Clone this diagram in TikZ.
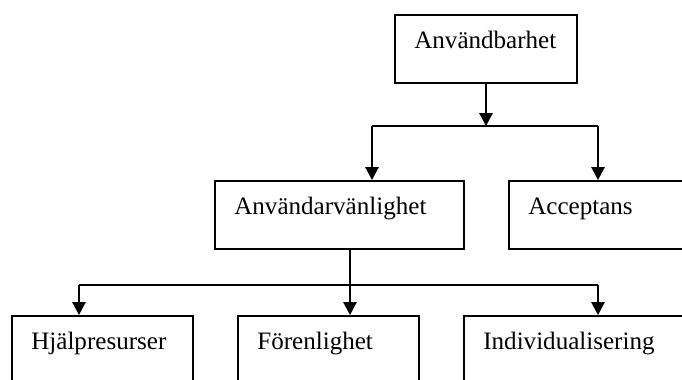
\documentclass[tikz,border=0pt]{standalone}
\usepackage{fontspec}
\setmainfont{Liberation Serif}
\usetikzlibrary{arrows.meta}

\tikzset{box/.style={draw, line width=1.5pt, anchor=north west, inner xsep=14.5pt, inner ysep=0pt,
    align=left, text height=24.75pt, text depth=26.25pt, font=\fontsize{18.8}{22}\selectfont},
    tallbox/.style={box, text depth=60pt},
    arr/.style={line width=1.5pt, -{Triangle[length=9.75pt,width=10pt]}},
    bus/.style={line width=1.5pt}}

\begin{document}
\begin{tikzpicture}[x=0.75pt, y=-0.75pt]
\clip (0,0) rectangle (682,379);
\node[box, text width=107.5pt] (anvb) at (394,14) {Användbarhet};
\node[box, text width=157.75pt] (anvv) at (214,180) {Användarvänlighet};
\node[box, text width=121pt] (acc) at (508,180) {Acceptans};
\node[tallbox, text width=106.75pt] (hjalp) at (11,315) {Hjälpresurser};
\node[tallbox, text width=106.75pt] (foren) at (237,315) {Förenlighet};
\node[tallbox, text width=143.5pt] (indiv) at (463,315) {Individualisering};

\coordinate (ba) at (372,126);
\coordinate (bb) at (598,126);
\coordinate (bc) at (79,285);
\coordinate (bd) at (598,285);
\coordinate (be) at (350,285);

\draw[arr] (anvb.south) -- (anvb.south |- ba);
\draw[bus] (ba) -- (bb);
\draw[arr] (ba) -- (ba |- anvv.north);
\draw[arr] (bb) -- (bb |- acc.north);

\draw[arr] (be |- anvv.south) -- (be |- foren.north);
\draw[bus] (bc) -- (bd);
\draw[arr] (bc) -- (bc |- hjalp.north);
\draw[arr] (bd) -- (bd |- indiv.north);

\end{tikzpicture}
\end{document}
